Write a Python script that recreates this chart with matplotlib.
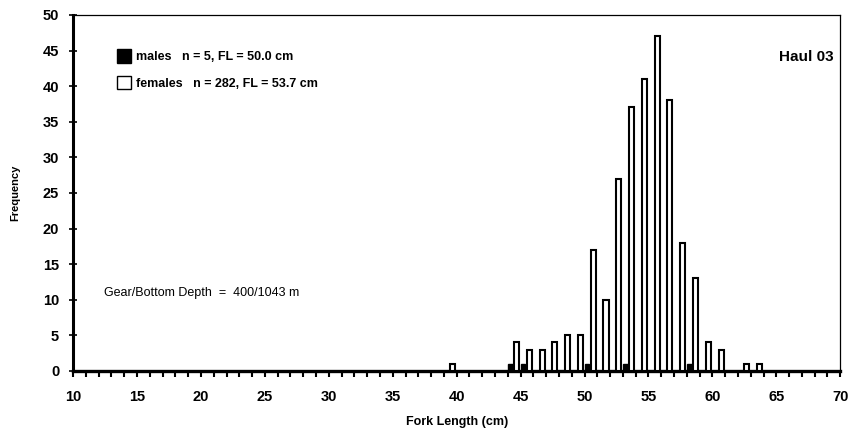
"""
Fork length frequency by sex, haul 03.
"""

import matplotlib
matplotlib.use("Agg")
import matplotlib.pyplot as plt
from matplotlib.patches import Patch
from matplotlib.ticker import MultipleLocator

# length classes (cm) and counts
female_lengths = [39, 44, 45, 46, 47, 48, 49, 50, 51, 52, 53, 54, 55, 56, 57, 58, 59, 60, 62, 63]
female_counts = [1, 4, 3, 3, 4, 5, 5, 17, 10, 27, 37, 41, 47, 38, 18, 13, 4, 3, 1, 1]
male_lengths = [44, 45, 50, 53, 58]
male_counts = [1, 1, 1, 1, 1]

male_label = "males   n = 5, FL = 50.0 cm"
female_label = "females   n = 282, FL = 53.7 cm"
haul_title = "Haul 03"
depth_note = "Gear/Bottom Depth  =  400/1043 m"

plt.rcParams['font.family'] = ['Liberation Sans', 'DejaVu Sans']

fig = plt.figure(figsize=(8.6, 4.38), dpi=100)
ax = fig.add_axes([0.085, 0.153, 0.892, 0.813])

# males on the left half of each 1 cm class, females on the right
ax.bar(male_lengths, male_counts, width=0.38, align='edge',
       color='black', edgecolor='black', linewidth=1.0, zorder=3)
ax.bar([x + 0.48 for x in female_lengths], female_counts, width=0.4, align='edge',
       color='white', edgecolor='black', linewidth=1.5, zorder=3)

ax.set_xlim(10, 70)
ax.set_ylim(0, 50)
ax.xaxis.set_major_locator(MultipleLocator(5))
ax.xaxis.set_minor_locator(MultipleLocator(1))
ax.yaxis.set_major_locator(MultipleLocator(5))

ax.tick_params(axis='x', which='both', direction='out', length=4, width=1.5,
               labelsize=10.5, pad=10)
ax.tick_params(axis='y', which='major', direction='inout', length=6, width=1.2,
               labelsize=10.5, pad=7)
for lab in ax.get_xticklabels() + ax.get_yticklabels():
    lab.set_fontweight('bold')

ax.spines['left'].set_linewidth(2.2)
ax.spines['bottom'].set_linewidth(2.4)
ax.spines['top'].set_linewidth(0.9)
ax.spines['right'].set_linewidth(0.9)

ax.set_xlabel("Fork Length (cm)", fontsize=9, fontweight='bold', labelpad=8)
ax.set_ylabel("Frequency", fontsize=8, fontweight='bold', labelpad=16)

handles = [Patch(facecolor='black', edgecolor='black', label=male_label),
           Patch(facecolor='white', edgecolor='black', linewidth=1.0, label=female_label)]
ax.legend(handles=handles, loc='upper left', bbox_to_anchor=(0.043, 0.935),
          frameon=False, handlelength=1.1, handleheight=1.3,
          handletextpad=0.4, labelspacing=1.0,
          prop={'weight': 'semibold', 'size': 9})

ax.text(0.992, 0.882, haul_title, transform=ax.transAxes, ha='right', va='center',
        fontsize=11, fontweight='bold')
ax.text(0.04, 0.219, depth_note, transform=ax.transAxes, ha='left', va='center',
        fontsize=9)

fig.savefig("out.png", dpi=100)
